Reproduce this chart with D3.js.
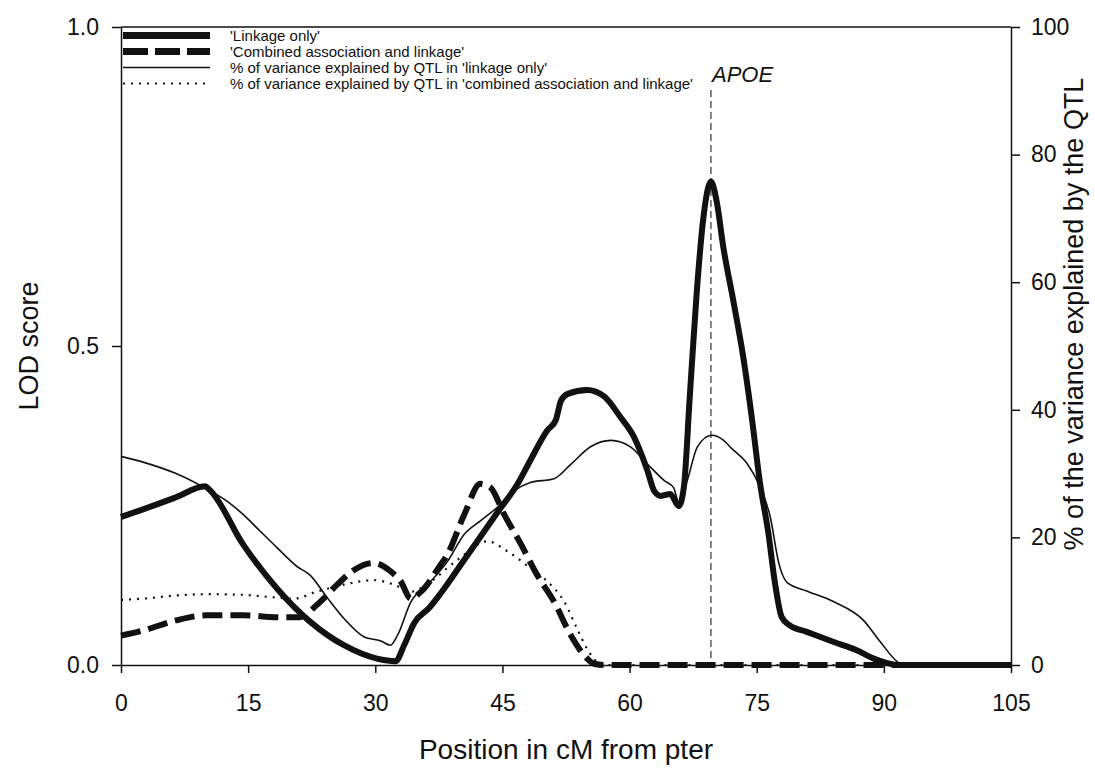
<!DOCTYPE html>
<html><head><meta charset="utf-8">
<script src="https://cdn.jsdelivr.net/npm/d3@7"></script>
<style>body{margin:0;background:#fff}svg{display:block;font-family:"Liberation Sans",Arial,sans-serif}</style>
</head><body><svg id="c" width="1095" height="770"></svg>
<script>
// ---- data ----
const xTicks = [0, 15, 30, 45, 60, 75, 90, 105];
const lodTicks = [0.0, 0.5, 1.0];
const pctTicks = [0, 20, 40, 60, 80, 100];

const linkageCM  = [0,2.6,6.5,9.9,10.5,14.4,18.4,22.3,26.3,30.2,32.4,33.4,34.6,36.4,37.7,40.5,44.4,46.8,48.3,50.3,51.3,51.9,52.7,55.0,57.0,58.9,60.5,62.1,62.9,63.7,64.8,65.8,66.4,67.1,67.9,68.7,69.6,70.3,71.06,72.24,73.42,74.41,75.39,76.37,77.16,77.95,78.9,80.9,84.1,86.8,88.8,90.4,92.0,105];
const linkageLOD = [0.232,0.244,0.263,0.280,0.274,0.189,0.120,0.068,0.031,0.010,0.006,0.031,0.066,0.090,0.112,0.165,0.239,0.284,0.321,0.368,0.384,0.414,0.425,0.431,0.421,0.389,0.358,0.305,0.273,0.265,0.268,0.249,0.278,0.420,0.580,0.700,0.758,0.725,0.655,0.571,0.482,0.389,0.285,0.207,0.128,0.075,0.062,0.052,0.036,0.023,0.010,0.003,0,0];

const combinedCM  = [0,2.6,6.5,10.1,14.4,18.4,21.1,23.1,25.5,27.5,29.8,31.8,33.0,34.2,35.4,37.7,38.5,40.5,42.4,43.6,45.2,47.2,49.1,51.1,53.1,55.0,55.8,57,105];
const combinedLOD = [0.046,0.054,0.070,0.078,0.078,0.075,0.075,0.094,0.126,0.149,0.160,0.147,0.131,0.104,0.115,0.157,0.173,0.236,0.284,0.278,0.236,0.189,0.141,0.099,0.046,0.010,0.002,0,0];

const varLinkCM  = [0,2.6,6.5,10.5,12.5,14.4,16.4,18.4,20.8,22.3,24.3,26.3,28.7,30.6,31.8,32.6,34.2,36.4,38.5,40.5,42.4,44.4,46.4,48.3,51.1,53.1,55.4,57.8,60.1,62.1,64.1,65.2,65.8,66.8,68.0,69.7,71.1,72.0,73.8,75.4,76.6,77.6,78.6,80.9,84.1,87.6,89.6,91.6,92.2,105];
const varLinkPct = [32.7,31.8,30.0,27.3,25.7,23.6,21.0,18.4,15.4,14.1,10.6,7.3,4.4,3.8,3.1,4.6,9.9,12.9,16.2,20.5,22.6,24.7,27.3,28.6,29.2,31.5,34.2,35.2,34.2,31.5,28.9,27.8,25.5,28.9,34.2,36.0,35.2,34.0,31.7,27.9,23.2,16.0,12.9,11.6,9.9,7.0,3.6,0.5,0,0];

const varCombCM  = [0,2.6,6.5,10.5,14.4,17.2,20.4,23.1,26.3,29.8,32.2,34.2,36.6,38.5,40.5,43.2,45.6,48.3,50.3,52.3,53.8,55.0,56.2,56.8,105];
const varCombPct = [10.2,10.4,10.9,11.1,11.0,10.7,10.4,11.5,12.6,13.3,12.6,11.5,13.1,15.2,17.3,19.4,17.8,15.2,13.1,9.9,5.7,2.5,0.4,0,0];

const apoePos = 69.6;
const legendLabels = ["'Linkage only'", "'Combined association and linkage'", "% of variance explained by QTL in 'linkage only'", "% of variance explained by QTL in 'combined association and linkage'"];

// ---- layout ----
const L = 121, R = 1011, T = 27, B = 665;
const svg = d3.select("#c");
const x = d3.scaleLinear().domain([0,105]).range([L,R]);
const yL = d3.scaleLinear().domain([0,1]).range([B,T]);
const yP = d3.scaleLinear().domain([0,100]).range([B,T]);
const ink = "#111";
const FF = "Liberation Sans, Arial, sans-serif";

// frame top
svg.append("line").attr("x1",L).attr("x2",R).attr("y1",T).attr("y2",T).attr("stroke",ink).attr("stroke-width",1.5);

const ax = svg.append("g").attr("transform",`translate(0,${B})`)
  .call(d3.axisBottom(x).tickValues(xTicks).tickFormat(d3.format("d")).tickSize(8).tickSizeOuter(0));
const ayl = svg.append("g").attr("transform",`translate(${L},0)`)
  .call(d3.axisLeft(yL).tickValues(lodTicks).tickFormat(d3.format(".1f")).tickSize(9).tickSizeOuter(0));
const ayr = svg.append("g").attr("transform",`translate(${R},0)`)
  .call(d3.axisRight(yP).tickValues(pctTicks).tickFormat(d3.format("d")).tickSize(9).tickSizeOuter(0));
[ax,ayl,ayr].forEach(g=>{
  g.selectAll("path,line").attr("stroke",ink).attr("stroke-width",1.5);
  g.selectAll("text").attr("font-size",23).attr("fill",ink).attr("font-family",FF);
});
ax.selectAll("text").attr("y",46).attr("dy",0);
ayl.selectAll("text").attr("x",-22);
ayr.selectAll("text").attr("x",20);

// titles
svg.append("text").attr("x",566).attr("y",759).attr("text-anchor","middle").attr("font-size",28).attr("fill",ink).text("Position in cM from pter");
svg.append("text").attr("transform",`translate(38,346) rotate(-90)`).attr("text-anchor","middle").attr("font-size",27).attr("fill",ink).text("LOD score");
svg.append("text").attr("transform",`translate(1083,314) rotate(-90)`).attr("text-anchor","middle").attr("font-size",27).attr("fill",ink).text("% of the variance explained by the QTL");

// APOE marker
svg.append("line").attr("x1",x(apoePos)).attr("x2",x(apoePos)).attr("y1",90).attr("y2",B)
  .attr("stroke","#333").attr("stroke-width",1.2).attr("stroke-dasharray","7,4");
svg.append("text").attr("x",712).attr("y",82).attr("font-size",22).attr("font-style","italic").attr("fill",ink).text("APOE");

// lines
const curve = d3.curveMonotoneX;
const lineL = (xs,ys) => d3.line().curve(curve).x((d,i)=>x(xs[i])).y((d,i)=>yL(ys[i]))(ys);
const lineP = (xs,ys) => d3.line().curve(curve).x((d,i)=>x(xs[i])).y((d,i)=>yP(ys[i]))(ys);

svg.append("path").attr("d",lineP(varCombCM,varCombPct)).attr("fill","none").attr("stroke",ink).attr("stroke-width",2.2).attr("stroke-dasharray","2,6");
svg.append("path").attr("d",lineP(varLinkCM,varLinkPct)).attr("fill","none").attr("stroke",ink).attr("stroke-width",1.6);
svg.append("path").attr("d",lineL(combinedCM,combinedLOD)).attr("fill","none").attr("stroke",ink).attr("stroke-width",6).attr("stroke-dasharray","20,8");
svg.append("path").attr("d",lineL(linkageCM,linkageLOD)).attr("fill","none").attr("stroke",ink).attr("stroke-width",6).attr("stroke-linejoin","round");

// legend
const legStyles = [
  {w:7, dash:null},
  {w:7, dash:"25,7"},
  {w:1.6, dash:null},
  {w:2.2, dash:"2,6"}
];
const legY = [35.5, 51.5, 67.5, 83.5];
legendLabels.forEach((lab,i)=>{
  const ln = svg.append("line").attr("x1",123).attr("x2",210).attr("y1",legY[i]).attr("y2",legY[i])
    .attr("stroke",ink).attr("stroke-width",legStyles[i].w);
  if (legStyles[i].dash) ln.attr("stroke-dasharray",legStyles[i].dash);
  svg.append("text").attr("x",230).attr("y",legY[i]+5).attr("font-size",15).attr("fill",ink).text(lab);
});
</script></body></html>
